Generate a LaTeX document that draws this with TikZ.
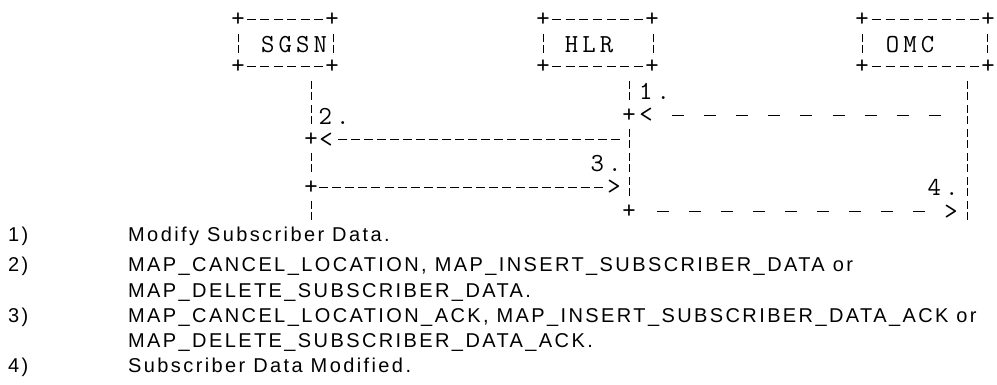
\documentclass[tikz,border=0pt]{standalone}
\usepackage{fontspec}
\newfontfamily\notefont[LetterSpace=12]{Liberation Sans}
\newcommand\cb[1]{\makebox[17.5pt]{#1}}
\tikzset{
  asc/.style={font=\ttfamily\fontsize{26}{26}\selectfont, inner sep=0pt, anchor=center},
  note/.style={font=\notefont\fontsize{20}{20}\selectfont, inner sep=0pt, anchor=base west},
  ln/.style={line width=1pt, black},
  dense/.style={ln, dash pattern=on 9pt off #1},
  sparse/.style={ln, dash pattern=on 12pt off #1},
  vbar/.style={ln, dash pattern=on 8pt off 3pt on 8pt off 5.1pt}
}
\begin{document}
\begin{tikzpicture}[x=1pt,y=-1pt]
\useasboundingbox (0,0) rectangle (997,385);
% ---- boxes: corners
\foreach \n/\x in {sl/238, sr/332, hl/543, hr/652, ol/862, or/988}{
  \node[asc] (\n-t) at (\x,20) {+};
  \node[asc] (\n-b) at (\x,67) {+};
}
% top / bottom dashes
\foreach \y in {20,67}{
  \draw[dense=4.43pt] (246.9,\y) -- (323.1,\y);
  \draw[dense=4.625pt] (552.1,\y) -- (642.9,\y);
  \draw[dense=5pt] (871.5,\y) -- (978.5,\y);
}
% side broken bars
\foreach \x in {238,333,543,653,862,987}{
  \draw[ln] (\x,34) -- (\x,42) (\x,45) -- (\x,53);
}
% labels
\node[asc] (sgsn) at (294,44.7) {\cb{S}\cb{G}\cb{S}\cb{N}};
\node[asc] (hlr) at (589,44.7) {\cb{H}\cb{L}\cb{R}};
\node[asc] (omc) at (910,44.7) {\cb{O}\cb{M}\cb{C}};
% ---- lifelines
\draw[vbar] (311,81) -- (311,129);
\draw[vbar] (311,153) -- (311,177);
\draw[vbar] (311,201) -- (311,221);
\draw[vbar] (629,81) -- (629,105);
\draw[vbar] (629,129) -- (629,201);
\draw[vbar] (967,81) -- (967,221);
% ---- lifeline junctions
\node[asc] (s5) at (311,140) {+};
\node[asc] (s7) at (311,187.5) {+};
\node[asc] (h4) at (629,115.5) {+};
\node[asc] (h8) at (629,212) {+};
% ---- message 1
\node[asc] (m1) at (654.5,91.5) {\cb{1}\cb{.}};
\node[asc] (a1) at (646,115.5) {<};
\draw[sparse=20.1pt] (672,115.5) -- (940.8,115.5);
% ---- message 2
\node[asc] (m2) at (334,116) {\cb{2}\cb{.}};
\node[asc] (a2) at (326,140) {<};
\draw[dense=4pt] (338,140) -- (620,140);
% ---- message 3
\node[asc] (m3) at (606,164) {\cb{3}\cb{.}};
\node[asc] (a3) at (614,187.5) {>};
\draw[dense=4.1pt] (319,187.5) -- (603.1,187.5);
% ---- message 4
\node[asc] (m4) at (943,187.5) {\cb{4}\cb{.}};
\node[asc] (a4) at (951,212) {>};
\draw[sparse=20pt] (657,212) -- (925,212);
% ---- notes
\node[note] (n1) at (8,242) {1)};
\node[note] (t1) at (128,242) {Modify Subscriber Data.};
\node[note] (n2) at (8,272) {2)};
\node[note] (t2) at (128,272) {MAP\_CANCEL\_LOCATION, MAP\_INSERT\_SUBSCRIBER\_DATA or};
\node[note] (t2b) at (128,297) {MAP\_DELETE\_SUBSCRIBER\_DATA.};
\node[note] (n3) at (8,322) {3)};
\node[note] (t3) at (128,322) {MAP\_CANCEL\_LOCATION\_ACK, MAP\_INSERT\_SUBSCRIBER\_DATA\_ACK or};
\node[note] (t3b) at (128,347) {MAP\_DELETE\_SUBSCRIBER\_DATA\_ACK.};
\node[note] (n4) at (8,372) {4)};
\node[note] (t4) at (128,372) {Subscriber Data Modified.};
\end{tikzpicture}
\end{document}
